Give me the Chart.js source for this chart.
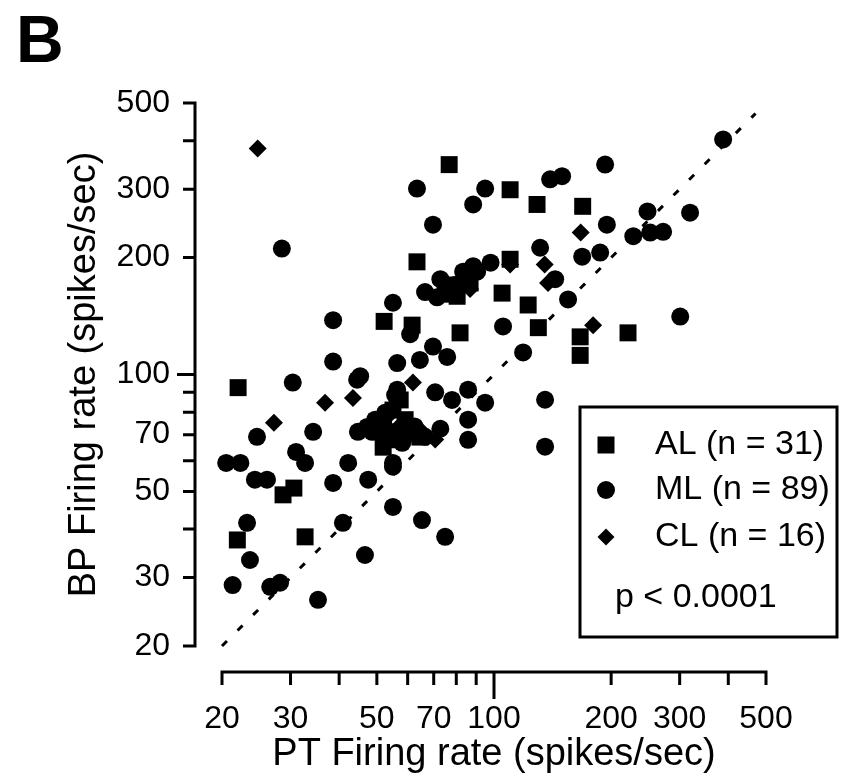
<!DOCTYPE html>
<html><head><meta charset="utf-8">
<script src="https://cdn.jsdelivr.net/npm/chart.js@4/dist/chart.umd.min.js"></script>
<style>html,body{margin:0;padding:0;background:#fff}#wrap{width:856px;height:784px}</style>
</head><body><div id="wrap"><canvas id="c" width="856" height="784"></canvas></div>
<script>
const panelLabel = 'B';
const xTitle = 'PT Firing rate (spikes/sec)';
const yTitle = 'BP Firing rate (spikes/sec)';
const xTickLabels = [20, 30, 50, 70, 100, 200, 300, 500];
const yTickLabels = [20, 30, 50, 70, 100, 200, 300, 500];
const xTickMarks = [20, 30, 40, 50, 60, 70, 80, 90, 100, 200, 300, 400, 500];
const yTickMarks = [20, 30, 40, 50, 60, 70, 80, 90, 100, 200, 300, 400, 500];
const majorTicks = [100];
const unityLine = [20, 470];

const alPT = [76.7,110,129,63.4,75.8,80.4,52.2,61.6,81.8,110,104.9,122.4,130,166.5,166.5,221,169,22.0,28.7,30.6,21.9,32.7,51.3,55,59.1,53.4,86.8,74.9,57.4,51.9,64.5];
const alBP = [347,299,274,195,170,159,137,134,128,198,162,151,132,125,112,128,271,92.5,49,51,37.5,38.2,71.2,81,76.5,67.9,172,161,86,65,69];

const mlPT = [63.4,94.9,88.4,69.7,28.5,38.6,55.0,66.5,71.4,83.3,38.6,60.9,69.7,75.8,56.4,193,139.4,149.6,319,248,228,252,272,195,131.4,168.5,187.4,143.6,155,301,105.5,118.8,98,388,62.5,72.8,70.6,78,85.8,94.9,85.8,85.8,56.4,52.5,47.2,58.4,55,45.3,30.4,44.5,24.6,34.3,44.7,48.6,51.9,58.1,66.5,20.5,22.3,31,32.7,24.3,26.1,38.6,42.2,47.5,55,55,65.3,74.9,40.9,46.6,23.2,23.6,21.3,26.6,28.2,35.3,135.3,135.3,88.4,49.5,60.9,55.7,72.8,79.4,90.5,64.5,54];
const mlBP = [301,301,274,243,211,138,153,163,158,184,108,127,118,111,107,347,318,324,261,263,227,232,233,243,212,201,206,176,156,141,133,114,194,403,73.5,72.5,90,86,91.4,84.6,76.5,67.9,91.4,79.7,73.3,67.9,59.2,99,95.3,97,69.1,71.2,71.2,71.2,75,66.7,69.1,59.2,59.2,63.2,59.2,53.6,53.6,52.6,59.2,53.6,57.9,45.6,42.2,38.2,41.5,34.3,41.5,33.3,28.7,28.4,29.1,26.3,86.1,65.2,190,76.5,72,88.5,176,170,184,109,71.2];

const clPT = [24.7,167,179.8,135,61.9,43.4,36.8,27.2,65.7,110,57.4,70.6,86.8,53,81.8,137.7];
const clBP = [382,232,134,192,95.3,87,84.6,75.1,70.8,192,74,68,166,77.5,166,172];

const legendLabels = ['AL (n = 31)', 'ML (n = 89)', 'CL (n = 16)'];
const legendStyles = ['rect', 'circle', 'rectRot'];
const statText = 'p < 0.0001';

const FONT = "'Liberation Sans', Arial, Helvetica, sans-serif";
Chart.defaults.font.family = FONT;
Chart.defaults.color = '#000';

const toPts = (xs, ys) => xs.map((x, i) => ({x: x, y: ys[i]}));

function drawMarker(ctx, style, x, y) {
  ctx.beginPath();
  if (style === 'rect') { ctx.rect(x - 8.5, y - 8.5, 17, 17); }
  else if (style === 'circle') { ctx.arc(x, y, 9, 0, Math.PI * 2); }
  else { ctx.moveTo(x, y - 8.5); ctx.lineTo(x + 8.5, y); ctx.lineTo(x, y + 8.5); ctx.lineTo(x - 8.5, y); ctx.closePath(); }
  ctx.fill();
}

const decorPlugin = {
  id: 'decor',
  afterDraw(chart) {
    const ctx = chart.ctx, xs = chart.scales.x, ys = chart.scales.y, ca = chart.chartArea;
    ctx.save();
    ctx.strokeStyle = '#000'; ctx.fillStyle = '#000'; ctx.lineWidth = 3; ctx.lineCap = 'butt';
    const axY = ca.bottom + 26;
    ctx.beginPath();
    ctx.moveTo(xs.getPixelForValue(xTickMarks[0]) - 1.5, axY);
    ctx.lineTo(xs.getPixelForValue(xTickMarks[xTickMarks.length - 1]) + 1.5, axY);
    xTickMarks.forEach(v => {
      const px = xs.getPixelForValue(v);
      const len = majorTicks.includes(v) ? 27 : 13;
      ctx.moveTo(px, axY); ctx.lineTo(px, axY + len);
    });
    ctx.stroke();
    const axX = ca.left - 27;
    ctx.beginPath();
    ctx.moveTo(axX, ys.getPixelForValue(yTickMarks[0]) + 1.5);
    ctx.lineTo(axX, ys.getPixelForValue(yTickMarks[yTickMarks.length - 1]) - 1.5);
    yTickMarks.forEach(v => {
      const py = ys.getPixelForValue(v);
      const len = majorTicks.includes(v) ? 18 : 12;
      ctx.moveTo(axX, py); ctx.lineTo(axX - len, py);
    });
    ctx.stroke();
    ctx.font = 'bold 66px ' + FONT;
    ctx.textBaseline = 'alphabetic'; ctx.textAlign = 'left';
    ctx.fillText(panelLabel, 16, 62);
    const bx = 580, by = 407, bw = 257, bh = 230;
    ctx.lineWidth = 3;
    ctx.strokeRect(bx, by, bw, bh);
    ctx.font = '34px ' + FONT;
    ctx.textBaseline = 'middle';
    const rows = [445, 490, 537];
    legendLabels.forEach((t, i) => {
      drawMarker(ctx, legendStyles[i], 606, rows[i]);
      ctx.fillText(t, 655, rows[i]);
    });
    ctx.fillText(statText, 615, 598);
    ctx.restore();
  }
};

const ptOpts = { backgroundColor: '#000', borderColor: '#000', borderWidth: 0, clip: false, hoverRadius: 0 };

new Chart(document.getElementById('c'), {
  type: 'scatter',
  data: {
    datasets: [
      { type: 'line', label: 'unity', data: unityLine.map(v => ({x: v, y: v})), borderColor: '#000', borderWidth: 3,
        borderDash: [7, 15], pointRadius: 0, fill: false, clip: false },
      Object.assign({ label: legendLabels[0], data: toPts(alPT, alBP), pointStyle: 'rect', pointRadius: 12 }, ptOpts),
      Object.assign({ label: legendLabels[1], data: toPts(mlPT, mlBP), pointStyle: 'circle', pointRadius: 9 }, ptOpts),
      Object.assign({ label: legendLabels[2], data: toPts(clPT, clBP), pointStyle: 'rectRot', pointRadius: 9 }, ptOpts)
    ]
  },
  options: {
    responsive: false, animation: false, devicePixelRatio: 1,
    layout: { padding: { top: 103, right: 90, bottom: 0, left: 55 } },
    plugins: { legend: { display: false }, tooltip: { enabled: false } },
    scales: {
      x: {
        type: 'logarithmic', position: 'bottom', min: 20, max: 500,
        grid: { display: false, drawTicks: false }, border: { display: false },
        afterBuildTicks: s => { s.ticks = xTickLabels.map(v => ({ value: v })); },
        afterFit: s => { s.height = 138; },
        ticks: { autoSkip: false, maxRotation: 0, padding: 57, color: '#000',
          font: { size: 32, lineHeight: 1 }, callback: v => String(v) },
        title: { display: true, text: xTitle, color: '#000', font: { size: 38, lineHeight: 1 }, padding: { top: 0, bottom: 10 } }
      },
      y: {
        type: 'logarithmic', position: 'left', min: 20, max: 500,
        grid: { display: false, drawTicks: false }, border: { display: false },
        afterBuildTicks: s => { s.ticks = yTickLabels.map(v => ({ value: v })); },
        afterFit: s => { s.width = 167; },
        ticks: { autoSkip: false, padding: 52, color: '#000',
          font: { size: 32, lineHeight: 1 }, callback: v => String(v) },
        title: { display: true, text: yTitle, color: '#000', font: { size: 38, lineHeight: 1 }, padding: { top: 11, bottom: 0 } }
      }
    }
  },
  plugins: [decorPlugin]
});
</script></body></html>
